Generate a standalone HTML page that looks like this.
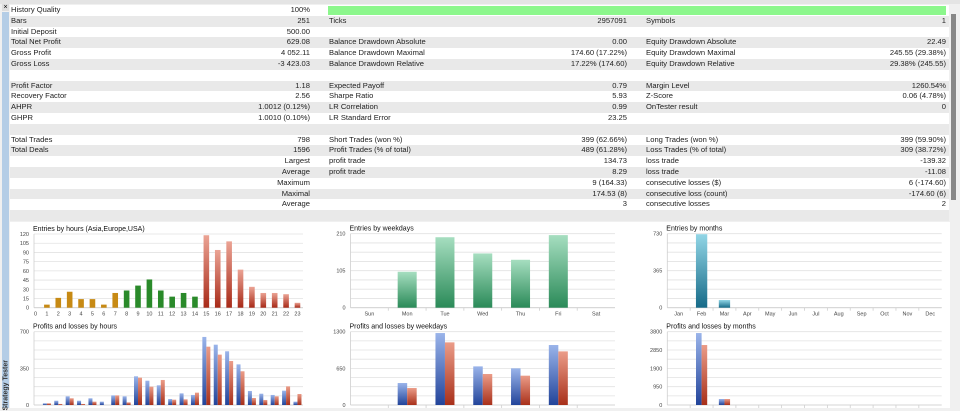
<!DOCTYPE html>
<html><head><meta charset="utf-8">
<style>
body{margin:0;width:960px;height:408px;overflow:hidden;background:#f0f0f0;font-family:"Liberation Sans",sans-serif;position:relative}
#tbl{position:absolute;left:10px;top:5px;width:939px}
.r{height:10.8px;position:relative;font-size:7.6px;line-height:10.8px;color:#222}
.r:nth-child(odd){background:#fff}.r:nth-child(even){background:#e9e9e9}
.r span{position:absolute;white-space:nowrap}
.l1{left:1px}.v1{right:639px}.l2{left:319px}.v2{right:322px}.l3{left:636px}.v3{right:3px}
#charts{position:absolute;left:10px;top:222px}
</style></head><body>
<div style="position:absolute;left:0;top:0;width:960px;height:4px;background:#e4e4e4"></div>
<div style="position:absolute;left:2px;top:4px;width:7px;height:7px;font-size:7px;line-height:7px;text-align:center;background:#ddd">×</div>
<div style="position:absolute;left:2px;top:12px;width:7px;height:396px;background:#b4cde6"><div style="position:absolute;left:-26px;bottom:24px;width:60px;transform:rotate(-90deg);font-size:7px;font-weight:bold;color:#333;white-space:nowrap">Strategy Tester</div></div>
<div style="position:absolute;left:951px;top:14px;width:5px;height:186px;background:#888"></div>
<div id="tbl">
<div class="r"><span class="l1">History Quality</span><span class="v1">100%</span><span style="left:318px;top:1px;width:618px;height:9px;background:#8cf78c"></span></div>
<div class="r"><span class="l1">Bars</span><span class="v1">251</span><span class="l2">Ticks</span><span class="v2">2957091</span><span class="l3">Symbols</span><span class="v3">1</span></div>
<div class="r"><span class="l1">Initial Deposit</span><span class="v1">500.00</span></div>
<div class="r"><span class="l1">Total Net Profit</span><span class="v1">629.08</span><span class="l2">Balance Drawdown Absolute</span><span class="v2">0.00</span><span class="l3">Equity Drawdown Absolute</span><span class="v3">22.49</span></div>
<div class="r"><span class="l1">Gross Profit</span><span class="v1">4 052.11</span><span class="l2">Balance Drawdown Maximal</span><span class="v2">174.60 (17.22%)</span><span class="l3">Equity Drawdown Maximal</span><span class="v3">245.55 (29.38%)</span></div>
<div class="r"><span class="l1">Gross Loss</span><span class="v1">-3 423.03</span><span class="l2">Balance Drawdown Relative</span><span class="v2">17.22% (174.60)</span><span class="l3">Equity Drawdown Relative</span><span class="v3">29.38% (245.55)</span></div>
<div class="r"></div>
<div class="r"><span class="l1">Profit Factor</span><span class="v1">1.18</span><span class="l2">Expected Payoff</span><span class="v2">0.79</span><span class="l3">Margin Level</span><span class="v3">1260.54%</span></div>
<div class="r"><span class="l1">Recovery Factor</span><span class="v1">2.56</span><span class="l2">Sharpe Ratio</span><span class="v2">5.93</span><span class="l3">Z-Score</span><span class="v3">0.06 (4.78%)</span></div>
<div class="r"><span class="l1">AHPR</span><span class="v1">1.0012 (0.12%)</span><span class="l2">LR Correlation</span><span class="v2">0.99</span><span class="l3">OnTester result</span><span class="v3">0</span></div>
<div class="r"><span class="l1">GHPR</span><span class="v1">1.0010 (0.10%)</span><span class="l2">LR Standard Error</span><span class="v2">23.25</span></div>
<div class="r"></div>
<div class="r"><span class="l1">Total Trades</span><span class="v1">798</span><span class="l2">Short Trades (won %)</span><span class="v2">399 (62.66%)</span><span class="l3">Long Trades (won %)</span><span class="v3">399 (59.90%)</span></div>
<div class="r"><span class="l1">Total Deals</span><span class="v1">1596</span><span class="l2">Profit Trades (% of total)</span><span class="v2">489 (61.28%)</span><span class="l3">Loss Trades (% of total)</span><span class="v3">309 (38.72%)</span></div>
<div class="r"><span class="v1">Largest</span><span class="l2">profit trade</span><span class="v2">134.73</span><span class="l3">loss trade</span><span class="v3">-139.32</span></div>
<div class="r"><span class="v1">Average</span><span class="l2">profit trade</span><span class="v2">8.29</span><span class="l3">loss trade</span><span class="v3">-11.08</span></div>
<div class="r"><span class="v1">Maximum</span><span class="v2">9 (164.33)</span><span class="l3">consecutive losses ($)</span><span class="v3">6 (-174.60)</span></div>
<div class="r"><span class="v1">Maximal</span><span class="v2">174.53 (8)</span><span class="l3">consecutive loss (count)</span><span class="v3">-174.60 (6)</span></div>
<div class="r"><span class="v1">Average</span><span class="v2">3</span><span class="l3">consecutive losses</span><span class="v3">2</span></div>
<div class="r"></div>
</div>
<svg id="charts" width="940" height="186" viewBox="10 222 940 186" xmlns="http://www.w3.org/2000/svg" style="background:#fff">
<defs>
<linearGradient id="gRed" x1="0" y1="0" x2="0" y2="1"><stop offset="0" stop-color="#eba394"/><stop offset="1" stop-color="#a82a18"/></linearGradient>
<linearGradient id="gGreen" x1="0" y1="0" x2="0" y2="1"><stop offset="0" stop-color="#a6dec0"/><stop offset="1" stop-color="#2a8a58"/></linearGradient>
<linearGradient id="gTeal" x1="0" y1="0" x2="0" y2="1"><stop offset="0" stop-color="#92d6e6"/><stop offset="1" stop-color="#166a88"/></linearGradient>
<linearGradient id="gBlue" x1="0" y1="0" x2="0" y2="1"><stop offset="0" stop-color="#9ab4ea"/><stop offset="1" stop-color="#22449a"/></linearGradient>
<linearGradient id="gRed2" x1="0" y1="0" x2="0" y2="1"><stop offset="0" stop-color="#eb9c88"/><stop offset="1" stop-color="#a8301a"/></linearGradient>
</defs>
<g id="root"></g>
</svg>
<script>
const hourCats=["0","1","2","3","4","5","6","7","8","9","10","11","12","13","14","15","16","17","18","19","20","21","22","23"];
const hourEntries=[0,5,16,26,14,14,5,24,28,36,46,28,18,24,18,118,94,108,62,34,24,24,22,8];
const hourProfits=[0,16,41,83,41,64,32,92,83,274,232,188,57,111,96,650,576,513,388,134,108,96,137,32];
const hourLosses=[0,16,10,64,10,32,0,92,25,261,175,239,51,54,118,557,481,420,322,67,48,83,178,105];
const dayCats=["Sun","Mon","Tue","Wed","Thu","Fri","Sat"];
const dayEntries=[0,102,200,154,136,206,0];
const dayProfits=[0,390,1276,685,650,1064,0];
const dayLosses=[0,301,1111,550,520,951,0];
const monthCats=["Jan","Feb","Mar","Apr","May","Jun","Jul","Aug","Sep","Oct","Nov","Dec"];
const monthEntries=[0,725,76,0,0,0,0,0,0,0,0,0];
const monthProfits=[0,3730,311,0,0,0,0,0,0,0,0,0];
const monthLosses=[0,3110,311,0,0,0,0,0,0,0,0,0];
const hourTicks=[0,15,30,45,60,75,90,105,120];
const dayTicks=[0,105,210];
const dayPLTicks=[0,650,1300];
const monthTicks=[0,365,730];
const monthPLTicks=[0,950,1900,2850,3800];
const hourPLTicks=[0,350,700];

const NS="http://www.w3.org/2000/svg";
const root=document.getElementById('root');
function mk(tag,attrs,parent){const e=document.createElementNS(NS,tag);for(const k in attrs)e.setAttribute(k,attrs[k]);(parent||root).appendChild(e);return e;}
function chart(o){
  const g=mk('g',{});
  
  
  const t=mk('text',{x:o.x0-1,y:o.top-3,'font-size':7,fill:'#111','font-family':'Liberation Sans, sans-serif'},g);
  t.textContent=o.title;
  
  
  const max=o.ticks[o.ticks.length-1];
  const y=v=>o.bot-(v/max)*(o.bot-o.top);
  const n=o.cats.length,bw=(o.x1-o.x0)/n;
  const xc=i=>o.center?o.x0+(i+0.5)*bw:o.x0+i*o.step+o.off;
  for(let k=0;k<=8;k++){const yy=o.bot-k*(o.bot-o.top)/8;mk('line',{x1:o.x0,x2:o.x1,y1:yy,y2:yy,stroke:'#e2e2e2','stroke-width':0.8},g);}
  mk('line',{x1:o.x0,x2:o.x0,y1:o.top,y2:o.bot,stroke:'#cfcfcf','stroke-width':0.8},g);
  mk('line',{x1:o.x0,x2:o.x1,y1:o.bot,y2:o.bot,stroke:'#cfcfcf','stroke-width':0.8},g);
  o.ticks.forEach(v=>{const tt=mk('text',{x:o.x0-5,y:y(v)+2,'font-size':5.5,fill:'#444','text-anchor':'end','font-family':'Liberation Sans, sans-serif'},g);tt.textContent=v;
    
    });
  if(o.center){for(let i=1;i<n;i++)mk('line',{x1:o.x0+i*bw,x2:o.x0+i*bw,y1:o.bot,y2:o.bot+3,stroke:'#cfcfcf','stroke-width':0.8},g);}
  if(o.labels){o.cats.forEach((c,i)=>{const tt=mk('text',{x:xc(i),y:o.bot+8,'font-size':5.5,fill:'#444','text-anchor':'middle','font-family':'Liberation Sans, sans-serif'},g);tt.textContent=c;
    
    });}
  o.series.forEach((s,si)=>{
    s.vals.forEach((v,i)=>{if(!v)return;
      const w=o.bar;const x=xc(i)+(o.series.length>1?(si===0?-w:0):-w/2);
      const r=mk('rect',{x:x,y:y(v),width:w,height:o.bot-y(v),fill:typeof s.fill==='function'?s.fill(i):s.fill},g);
      
      
    });
  });
}
const hourColor=i=>i<8?'#c78a14':(i<15?'#2a8a2a':'url(#gRed)');
chart({name:'entries-by-hours',title:'Entries by hours (Asia,Europe,USA)',x0:34,x1:303,top:234,bot:307.7,ticks:hourTicks,cats:hourCats,labels:true,center:false,step:11.39,off:1.5,bar:5.6,series:[{name:'entries-bar',vals:hourEntries,fill:hourColor}]});
chart({name:'profits-losses-by-hours',title:'Profits and losses by hours',x0:34,x1:303,top:331.7,bot:405,ticks:hourPLTicks,cats:hourCats,labels:false,center:false,step:11.39,off:1.5,bar:4,series:[{name:'profit-bar',vals:hourProfits,fill:'url(#gBlue)'},{name:'loss-bar',vals:hourLosses,fill:'url(#gRed2)'}]});
chart({name:'entries-by-weekdays',title:'Entries by weekdays',x0:350.5,x1:615,top:233.7,bot:307.7,ticks:dayTicks,cats:dayCats,labels:true,center:true,bar:19,series:[{name:'entries-bar',vals:dayEntries,fill:'url(#gGreen)'}]});
chart({name:'profits-losses-by-weekdays',title:'Profits and losses by weekdays',x0:350.5,x1:615,top:331.7,bot:405,ticks:dayPLTicks,cats:dayCats,labels:false,center:true,bar:9.5,series:[{name:'profit-bar',vals:dayProfits,fill:'url(#gBlue)'},{name:'loss-bar',vals:dayLosses,fill:'url(#gRed2)'}]});
chart({name:'entries-by-months',title:'Entries by months',x0:667.3,x1:941.7,top:233.7,bot:307.7,ticks:monthTicks,cats:monthCats,labels:true,center:true,bar:11.3,series:[{name:'entries-bar',vals:monthEntries,fill:'url(#gTeal)'}]});
chart({name:'profits-losses-by-months',title:'Profits and losses by months',x0:667.3,x1:941.7,top:331.7,bot:405,ticks:monthPLTicks,cats:monthCats,labels:false,center:true,bar:5.6,series:[{name:'profit-bar',vals:monthProfits,fill:'url(#gBlue)'},{name:'loss-bar',vals:monthLosses,fill:'url(#gRed2)'}]});
</script>
</body></html>
